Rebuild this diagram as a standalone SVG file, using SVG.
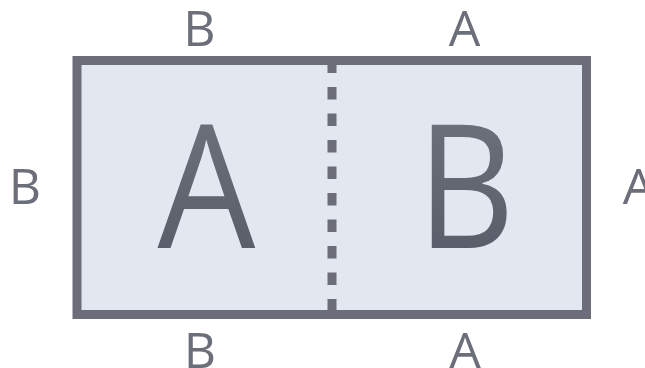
<svg xmlns="http://www.w3.org/2000/svg" width="645" height="368" viewBox="0 0 645 368">
<style>
.lbl{font-family:"Open Sans","Liberation Sans",sans-serif;font-size:50px;fill:#6c6f7a;text-anchor:middle}
.big{font-family:"Open Sans","Liberation Sans",sans-serif;font-size:172px;font-weight:500;fill:url(#g);text-anchor:middle}
</style>
<defs>
<linearGradient id="g" x1="0" y1="0" x2="0" y2="1">
<stop offset="0" stop-color="#747782"/>
<stop offset="1" stop-color="#545864"/>
</linearGradient>
</defs>
<rect width="645" height="368" fill="#ffffff"/>
<g id="panel">
<rect x="77" y="60.5" width="509.5" height="254" fill="#e3e7f0" stroke="#6b6e79" stroke-width="9"/>
</g>
<g id="connectors">
<line x1="332" y1="60.5" x2="332" y2="314.5" stroke="#6b6e79" stroke-width="9" stroke-dasharray="12.5 14"/>
</g>
<g id="left-half">
<text class="big" transform="translate(206.5,248) scale(0.9,1)" x="0" y="0">A</text>
</g>
<g id="right-half">
<text class="big" transform="translate(466,248) scale(0.88,1)" x="0" y="0">B</text>
</g>
<g id="labels">
<text class="lbl" x="199.5" y="45.5">B</text>
<text class="lbl" x="464.5" y="45.5">A</text>
<text class="lbl" x="25" y="204">B</text>
<text class="lbl" x="638.5" y="204">A</text>
<text class="lbl" x="200" y="368">B</text>
<text class="lbl" x="465" y="368">A</text>
</g>
</svg>
